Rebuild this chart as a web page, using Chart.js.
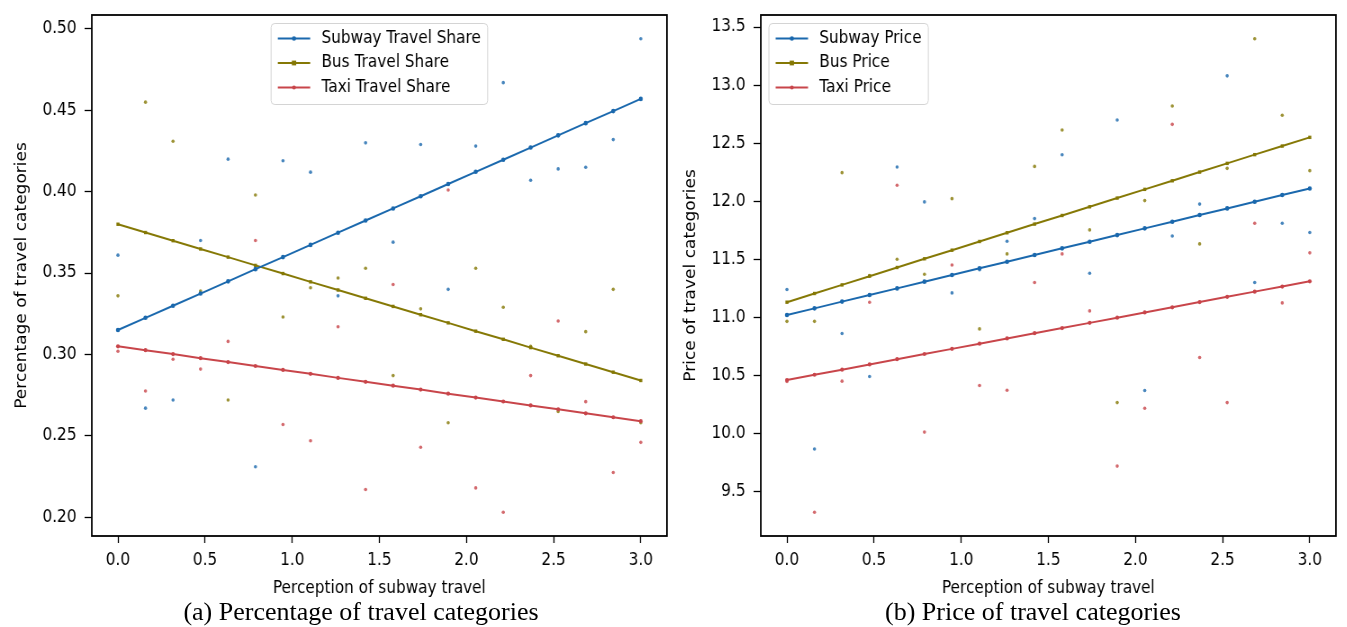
<!DOCTYPE html>
<html>
<head>
<meta charset="utf-8">
<script src="https://cdn.jsdelivr.net/npm/chart.js@4"></script>
<style>
  body { margin: 0; background: #fff; width: 1347px; height: 627px; overflow: hidden; position: relative; }
  .panel { position: absolute; top: 0; transform: scaleX(0.9); transform-origin: 0 0; }
  .caption { position: absolute; top: 597px; width: 420px; text-align: center; color: #000;
             font: 26px "Liberation Serif", "Times New Roman", serif; line-height: 30px; }
</style>
</head>
<body>
<div class="panel" style="left:0"><canvas id="shareChart" width="747" height="627"></canvas></div>
<div class="panel" style="left:669px"><canvas id="priceChart" width="747" height="627"></canvas></div>
<div class="caption" style="left:151px">(a) Percentage of travel categories</div>
<div class="caption" style="left:823px">(b) Price of travel categories</div>
<script>
// perception of subway travel, shared x for every series
const perception = [0.0, 0.158, 0.316, 0.474, 0.632, 0.789, 0.947, 1.105, 1.263, 1.421,
                    1.579, 1.737, 1.895, 2.053, 2.211, 2.368, 2.526, 2.684, 2.842, 3.0];

// (a) travel share - fitted lines
const subwayShareFit = [0.315, 0.3225, 0.3299, 0.3374, 0.3449, 0.3524, 0.3598, 0.3673, 0.3748, 0.3823,
                        0.3897, 0.3972, 0.4047, 0.4122, 0.4196, 0.4271, 0.4346, 0.4421, 0.4495, 0.457];
const busShareFit = [0.380, 0.3749, 0.3699, 0.3648, 0.3598, 0.3547, 0.3497, 0.3446, 0.3396, 0.3345,
                     0.3295, 0.3244, 0.3194, 0.3143, 0.3093, 0.3042, 0.2992, 0.2941, 0.2891, 0.284];
const taxiShareFit = [0.305, 0.3026, 0.3002, 0.2977, 0.2953, 0.2929, 0.2905, 0.2881, 0.2856, 0.2832,
                      0.2808, 0.2784, 0.2759, 0.2735, 0.2711, 0.2687, 0.2663, 0.2638, 0.2614, 0.259];
// (a) travel share - observed
const subwayShare = [0.361, 0.267, 0.272, 0.370, 0.420, 0.231, 0.419, 0.412, 0.336, 0.430,
                     0.369, 0.429, 0.340, 0.428, 0.467, 0.407, 0.414, 0.415, 0.432, 0.494];
const busShare = [0.336, 0.455, 0.431, 0.339, 0.272, 0.398, 0.323, 0.341, 0.347, 0.353,
                  0.287, 0.328, 0.258, 0.353, 0.329, 0.305, 0.265, 0.314, 0.340, 0.258];
const taxiShare = [0.302, 0.2775, 0.297, 0.291, 0.308, 0.370, 0.257, 0.247, 0.317, 0.217,
                   0.343, 0.243, 0.401, 0.218, 0.203, 0.287, 0.3205, 0.271, 0.2275, 0.246];

// (b) price - fitted lines
const subwayPriceFit = [11.02, 11.077, 11.135, 11.192, 11.249, 11.307, 11.364, 11.422, 11.479, 11.536,
                        11.594, 11.651, 11.708, 11.766, 11.823, 11.881, 11.938, 11.995, 12.053, 12.11];
const busPriceFit = [11.13, 11.205, 11.279, 11.354, 11.429, 11.504, 11.578, 11.653, 11.728, 11.803,
                     11.877, 11.952, 12.027, 12.102, 12.176, 12.251, 12.326, 12.401, 12.475, 12.55];
const taxiPriceFit = [10.46, 10.505, 10.549, 10.594, 10.639, 10.684, 10.728, 10.773, 10.818, 10.863,
                      10.907, 10.952, 10.997, 11.042, 11.086, 11.131, 11.176, 11.221, 11.265, 11.31];
// (b) price - observed
const subwayPrice = [11.24, 9.865, 10.86, 10.49, 12.295, 11.994, 11.21, 11.41, 11.655, 11.85,
                     12.40, 11.38, 12.70, 10.37, 11.70, 11.975, 13.08, 11.30, 11.81, 11.73];
const busPrice = [10.965, 10.965, 12.246, 11.36, 11.50, 11.371, 12.022, 10.90, 11.546, 12.30,
                  12.613, 11.753, 10.265, 12.005, 12.82, 11.632, 12.283, 13.40, 12.74, 12.263];
const taxiPrice = [10.447, 9.32, 10.45, 11.13, 12.137, 10.011, 11.45, 10.412, 10.372, 11.30,
                   11.546, 11.055, 9.718, 10.216, 12.662, 10.654, 10.265, 11.81, 11.124, 11.555];

const xTicks = [0.0, 0.5, 1.0, 1.5, 2.0, 2.5, 3.0];
const shareTicks = [0.20, 0.25, 0.30, 0.35, 0.40, 0.45, 0.50];
const priceTicks = [9.5, 10.0, 10.5, 11.0, 11.5, 12.0, 12.5, 13.0, 13.5];

const BLUE = '#1a68ad', OLIVE = '#857805', RED = '#c8454a';
const FONT_SIZE = 17;
const FONT_FAMILY = '"DejaVu Sans", sans-serif';

Chart.defaults.font.family = FONT_FAMILY;
Chart.defaults.font.size = FONT_SIZE;
Chart.defaults.color = '#000';

const pts = (xs, ys) => xs.map((x, i) => ({x: x, y: ys[i]}));

// 5% margin around the data, like matplotlib autoscale
const padded = (values) => {
  const lo = Math.min(...values), hi = Math.max(...values);
  const m = (hi - lo) * 0.05;
  return {min: lo - m, max: hi + m};
};

const fade = (hex, a) => {
  const n = parseInt(hex.slice(1), 16);
  return `rgba(${n >> 16}, ${(n >> 8) & 255}, ${n & 255}, ${a})`;
};

const fitLine = (label, ys, color, style, radius) => ({
  label: label,
  data: pts(perception, ys),
  showLine: true,
  borderColor: color,
  borderWidth: 2,
  backgroundColor: color,
  pointStyle: style,
  pointRadius: radius,
  pointBorderWidth: 0,
  pointBackgroundColor: color
});

const observed = (ys, color) => ({
  label: '',
  data: pts(perception, ys),
  showLine: false,
  pointRadius: 1.8,
  pointBorderWidth: 0,
  pointBackgroundColor: fade(color, 0.8)
});

// black box around the plotting area
const framePlugin = {
  id: 'frame',
  afterDatasetsDraw(chart) {
    const {ctx, chartArea: a} = chart;
    ctx.save();
    ctx.strokeStyle = '#000';
    ctx.lineWidth = 1.8;
    ctx.strokeRect(a.left, a.top, a.right - a.left, a.bottom - a.top);
    ctx.restore();
  }
};

// matplotlib style legend drawn inside the axes
const boxLegend = {
  id: 'boxLegend',
  afterDraw(chart, args, opts) {
    const {ctx, chartArea: a} = chart;
    const items = chart.data.datasets.filter(d => d.showLine);
    ctx.save();
    ctx.font = `${FONT_SIZE}px ${FONT_FAMILY}`;
    const textW = Math.max(...items.map(d => ctx.measureText(d.label).width));
    const pad = 7.5, handle = 36, gap = 12.5, rowH = 24.5;
    const w = pad + handle + gap + textW + pad;
    const h = 81;
    const x = opts.loc === 'upper center' ? (a.left + a.right) / 2 - w / 2 : a.left + 9;
    const y = a.top + 8.5;

    ctx.beginPath();
    if (ctx.roundRect) ctx.roundRect(x, y, w, h, 4); else ctx.rect(x, y, w, h);
    ctx.fillStyle = 'rgba(255,255,255,0.8)';
    ctx.fill();
    ctx.strokeStyle = '#d4d4d4';
    ctx.lineWidth = 1;
    ctx.stroke();

    items.forEach((d, i) => {
      const cy = y + 15 + i * rowH;
      const mx = x + pad + handle / 2;
      ctx.strokeStyle = d.borderColor;
      ctx.lineWidth = d.borderWidth;
      ctx.beginPath();
      ctx.moveTo(x + pad, cy);
      ctx.lineTo(x + pad + handle, cy);
      ctx.stroke();
      ctx.fillStyle = d.pointBackgroundColor;
      if (d.pointStyle === 'rect') {
        ctx.fillRect(mx - d.pointRadius, cy - d.pointRadius, d.pointRadius * 2, d.pointRadius * 2);
      } else {
        ctx.beginPath();
        ctx.arc(mx, cy, d.pointRadius, 0, Math.PI * 2);
        ctx.fill();
      }
      ctx.fillStyle = '#000';
      ctx.textBaseline = 'middle';
      ctx.textAlign = 'left';
      ctx.fillText(d.label, x + pad + handle + gap, cy);
    });
    ctx.restore();
  }
};

const makeScales = (yTitle, yTicks, yRange, digits) => ({
  x: {
    type: 'linear',
    min: padded(perception).min,
    max: padded(perception).max,
    afterBuildTicks: s => { s.ticks = xTicks.map(v => ({value: v})); },
    afterFit: s => { s.height = 91; },
    ticks: { padding: 7, maxRotation: 0, autoSkip: false, callback: v => Number(v).toFixed(1) },
    grid: { drawOnChartArea: false, tickLength: 7, tickWidth: 1.3, tickColor: '#000' },
    border: { display: false },
    title: { display: true, text: 'Perception of subway travel', padding: {top: 0, bottom: 28} }
  },
  y: {
    type: 'linear',
    min: yRange.min,
    max: yRange.max,
    afterBuildTicks: s => { s.ticks = yTicks.map(v => ({value: v})); },
    // fixed axis width; the end labels sit well inside the range, no extra room needed
    afterFit: s => { s.width = 102; s.paddingTop = 0; s.paddingBottom = 0; },
    ticks: { padding: 9, autoSkip: false, callback: v => Number(v).toFixed(digits) },
    grid: { drawOnChartArea: false, tickLength: 8, tickWidth: 1.3, tickColor: '#000' },
    border: { display: false },
    title: { display: true, text: yTitle, padding: {top: 14, bottom: 0} }
  }
});

const makeChart = (canvasId, datasets, yTitle, yTicks, digits, loc) => {
  const allY = datasets.flatMap(d => d.data.map(p => p.y));
  return new Chart(document.getElementById(canvasId).getContext('2d'), {
    type: 'scatter',
    data: { datasets: datasets },
    options: {
      responsive: false,
      animation: false,
      layout: { padding: {top: 15, right: 6, left: 0, bottom: 0} },
      plugins: {
        legend: { display: false },
        tooltip: { enabled: false },
        boxLegend: { loc: loc }
      },
      scales: makeScales(yTitle, yTicks, padded(allY), digits)
    },
    plugins: [framePlugin, boxLegend]
  });
};

makeChart('shareChart', [
  fitLine('Subway Travel Share', subwayShareFit, BLUE, 'circle', 2.3),
  fitLine('Bus Travel Share', busShareFit, OLIVE, 'rect', 2.4),
  fitLine('Taxi Travel Share', taxiShareFit, RED, 'circle', 2.1),
  observed(subwayShare, BLUE),
  observed(busShare, OLIVE),
  observed(taxiShare, RED)
], 'Percentage of travel categories', shareTicks, 2, 'upper center');

makeChart('priceChart', [
  fitLine('Subway Price', subwayPriceFit, BLUE, 'circle', 2.3),
  fitLine('Bus Price', busPriceFit, OLIVE, 'rect', 2.4),
  fitLine('Taxi Price', taxiPriceFit, RED, 'circle', 2.1),
  observed(subwayPrice, BLUE),
  observed(busPrice, OLIVE),
  observed(taxiPrice, RED)
], 'Price of travel categories', priceTicks, 1, 'upper left');
</script>
</body>
</html>
